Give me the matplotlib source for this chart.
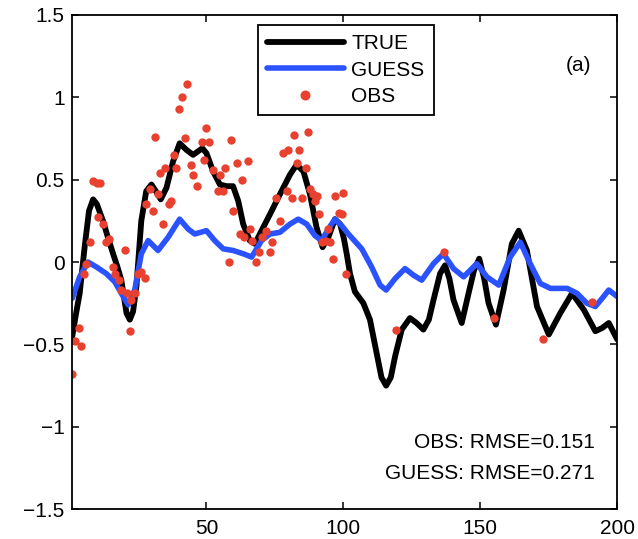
import numpy as np
import matplotlib
matplotlib.use("Agg")
import matplotlib.pyplot as plt

plt.rcParams['font.family'] = ['Liberation Sans', 'DejaVu Sans']

# TRUE curve
x_true = [1, 2.3, 3.7, 5.5, 7.1, 8.6, 10, 12.2, 14, 15.9, 17.5, 18.9, 20.8, 22, 23.2,
          24.4, 25.3, 26.2, 28, 29.9, 31.5, 33.3, 35.4, 37.8, 40.2, 42.7, 45.1, 48.5, 50, 52.4,
          54.9, 57.3, 59.7, 61.6, 63.4, 65.8, 67.7, 70.1, 73.2, 76.8, 80.5, 82.9, 85.4, 87.8, 90.2,
          92.4, 94.5, 96.9, 98.8, 100.2, 101.2, 102.4, 104.2, 107.3, 109.7, 112.1, 113.9, 115.6, 117.3, 118.9,
          121.3, 124.3, 126.7, 129.2, 131.2, 132.9, 135.3, 137.1, 138.7, 140.2, 143.2, 145.7, 147.7, 149.6, 151.4,
          153, 155.7, 158.5, 161.5, 164, 167, 170.7, 175, 179.2, 183.5, 187.8, 192, 194.5, 196.9, 200]
y_true = [-0.45, -0.32, -0.19, 0.09, 0.31, 0.38, 0.35, 0.25, 0.15, 0.05, -0.03, -0.11, -0.31, -0.35, -0.30,
          -0.15, 0.05, 0.25, 0.43, 0.47, 0.43, 0.38, 0.45, 0.61, 0.72, 0.68, 0.65, 0.69, 0.66, 0.55,
          0.47, 0.46, 0.46, 0.37, 0.23, 0.13, 0.11, 0.19, 0.29, 0.41, 0.53, 0.59, 0.55, 0.41, 0.21,
          0.09, 0.15, 0.26, 0.23, 0.14, 0.05, -0.07, -0.18, -0.25, -0.35, -0.55, -0.70, -0.75, -0.70, -0.57,
          -0.41, -0.34, -0.37, -0.41, -0.35, -0.23, -0.07, -0.02, -0.10, -0.23, -0.37, -0.19, -0.05, 0.02, -0.10,
          -0.25, -0.38, -0.17, 0.11, 0.19, 0.07, -0.27, -0.44, -0.31, -0.19, -0.29, -0.42, -0.40, -0.37, -0.47]

# GUESS curve
x_guess = [1, 3.7, 6.7, 9.8, 13.4, 16.5, 18.9, 21.4, 23.8, 26.2, 28.7, 32.3, 36, 40.2, 43.3,
           45.7, 50, 53, 56.1, 59.7, 63.4, 66.5, 70.1, 73.2, 76.8, 80.5, 83.5, 86.6, 89.6, 92.1,
           94.5, 96.9, 99.4, 101.8, 106.7, 110.3, 113.4, 115.6, 118.9, 122.5, 125.6, 128.6, 132.9, 136.5, 140.2,
           143.9, 148.7, 152.4, 156.7, 160.9, 164.6, 168.2, 171.9, 175.6, 181.7, 185.3, 188.9, 192, 194.5, 196.9, 200]
y_guess = [-0.22, -0.09, 0.0, -0.03, -0.07, -0.12, -0.19, -0.26, -0.17, 0.05, 0.13, 0.07, 0.15, 0.26, 0.20,
           0.17, 0.19, 0.13, 0.08, 0.07, 0.05, 0.03, 0.13, 0.17, 0.18, 0.23, 0.26, 0.23, 0.16, 0.13,
           0.20, 0.26, 0.22, 0.17, 0.08, -0.03, -0.14, -0.17, -0.10, -0.04, -0.08, -0.11, -0.01, 0.05, -0.04,
           -0.09, -0.01, -0.09, -0.14, 0.03, 0.12, -0.01, -0.13, -0.16, -0.16, -0.19, -0.25, -0.27, -0.22, -0.17, -0.21]

# OBS points
x_obs = [1, 1.9, 3.3, 4.0, 5.1, 6.1, 7.3, 8.6, 10.0, 11.2, 10.4, 12.2, 13.4, 14.4, 15.9,
         16.5, 18.1, 18.9, 20.1, 20.8, 22, 22.6, 23.8, 25, 26.2, 27.5, 27.8, 29.3, 30.3, 31.1,
         32.3, 33, 34.2, 34.8, 36.4, 37.2, 38.2, 39, 40, 41, 43, 42.1, 44.2, 45.1, 46.4,
         48.2, 49, 50, 51, 52.4, 54.9, 56.7, 54.3, 56.1, 59.1, 61, 63, 65.2, 59.7, 58.2,
         62.2, 63.6, 65.8, 66.5, 68.0, 69.3, 70.1, 71.9, 73.2, 74, 75.4, 76.8, 79.3, 81.1, 78.0,
         79.9, 82.1, 83.9, 83.2, 86.9, 86.3, 84.7, 87.8, 89, 90.5, 89.6, 91.1, 92.1, 93.6, 95.1,
         94.3, 96.1, 97, 100, 98.5, 99.4, 101, 119.1, 136.9, 155.1, 172.9, 190.9]
y_obs = [-0.68, -0.48, -0.40, -0.51, -0.07, -0.01, 0.12, 0.49, 0.48, 0.48, 0.27, 0.23, 0.12, 0.14, -0.03,
         -0.07, -0.11, -0.17, 0.07, -0.19, -0.42, -0.23, -0.19, -0.07, -0.06, -0.10, 0.35, 0.44, 0.31, 0.76,
         0.41, 0.54, 0.23, 0.57, 0.35, 0.37, 0.65, 0.57, 0.93, 1.0, 1.08, 0.75, 0.59, 0.53, 0.46,
         0.73, 0.62, 0.81, 0.73, 0.56, 0.53, 0.57, 0.43, 0.43, 0.74, 0.60, 0.50, 0.61, 0.31, 0.0,
         0.17, 0.15, 0.20, 0.13, 0.0, 0.06, 0.15, 0.19, 0.06, 0.12, 0.39, 0.25, 0.43, 0.39, 0.66,
         0.68, 0.77, 0.68, 0.60, 0.79, 0.57, 0.39, 0.44, 0.41, 0.40, 0.37, 0.29, 0.12, 0.13, 0.12,
         0.20, 0.02, 0.40, 0.42, 0.30, 0.29, -0.07, -0.41, 0.06, -0.34, -0.47, -0.24]

yticks = [-1.5, -1, -0.5, 0, 0.5, 1, 1.5]
ytick_labels = ['\u22121.5', '\u22121', '\u22120.5', '0', '0.5', '1', '1.5']
xticks = [50, 100, 150, 200]

fig = plt.figure(figsize=(6.38, 5.39), dpi=100)
ax = fig.add_axes([0.1133, 0.0551, 0.8542, 0.9176])

ax.plot(x_true, y_true, color='black', lw=4.2, solid_joinstyle='round', solid_capstyle='round', label='TRUE')
ax.plot(x_guess, y_guess, color='#2a52ff', lw=4, solid_joinstyle='round', solid_capstyle='round', label='GUESS')
ax.plot(x_obs, y_obs, 'o', color='#e8412f', markersize=6, markeredgewidth=0, label='OBS')

ax.set_xlim(1, 200)
ax.set_ylim(-1.5, 1.5)
ax.set_xticks(xticks)
ax.set_yticks(yticks)
ax.set_yticklabels(ytick_labels)
ax.tick_params(direction='in', length=5, width=1.1, top=True, right=True, labelsize=15)
ax.tick_params(axis='x', pad=7)
ax.tick_params(axis='y', pad=5.5)
for s in ax.spines.values():
    s.set_linewidth(1.3)

leg = ax.legend(loc='upper center', bbox_to_anchor=(0.5017, 0.979), fontsize=15,
                handlelength=3.7, handletextpad=0.35, labelspacing=0.35, borderpad=0.45,
                borderaxespad=0, fancybox=False, edgecolor='black', framealpha=1,
                numpoints=1, markerscale=1.2)
leg.get_frame().set_linewidth(1.3)

ax.text(0.9284, 0.8983, '(a)', transform=ax.transAxes, ha='center', va='center', fontsize=15)
ax.text(0.959, 0.1347, 'OBS: RMSE=0.151', transform=ax.transAxes, ha='right', va='center', fontsize=15)
ax.text(0.959, 0.0728, 'GUESS: RMSE=0.271', transform=ax.transAxes, ha='right', va='center', fontsize=15)

fig.savefig('out.png', dpi=100)
